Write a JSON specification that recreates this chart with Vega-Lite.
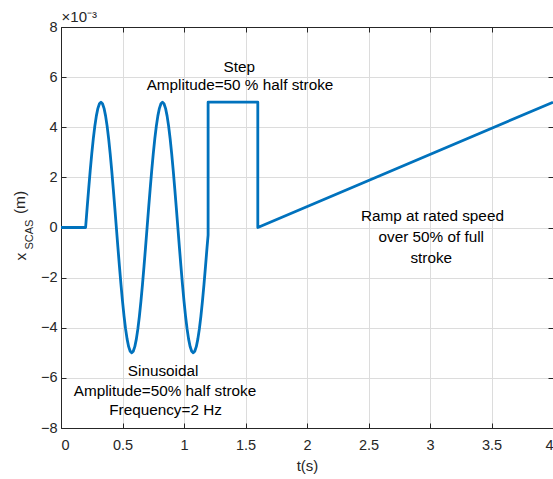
{
  "$schema": "https://vega.github.io/schema/vega-lite/v6.json",
  "width": 492,
  "height": 401,
  "autosize": "none",
  "padding": {"left": 61, "top": 27, "right": 0, "bottom": 51},
  "background": "white",
  "config": {
    "view": {"stroke": "#262626", "strokeWidth": 1},
    "font": "Liberation Sans",
    "axis": {
      "domainColor": "#262626",
      "tickColor": "#262626",
      "labelColor": "#262626",
      "titleColor": "#262626",
      "labelFont": "Liberation Sans",
      "titleFont": "Liberation Sans",
      "labelFontSize": 14.5,
      "titleFontSize": 15,
      "titleFontWeight": "normal",
      "gridColor": "#dcdcdc",
      "gridWidth": 1,
      "tickSize": -5
    }
  },
  "datasets": {
    "signal": [
      {"i": 0, "t": 0, "x": 0},
      {"i": 1, "t": 0.2, "x": 0},
      {"i": 2, "t": 0.2125, "x": 0.782},
      {"i": 3, "t": 0.225, "x": 1.545},
      {"i": 4, "t": 0.2375, "x": 2.27},
      {"i": 5, "t": 0.25, "x": 2.939},
      {"i": 6, "t": 0.2625, "x": 3.536},
      {"i": 7, "t": 0.275, "x": 4.045},
      {"i": 8, "t": 0.2875, "x": 4.455},
      {"i": 9, "t": 0.3, "x": 4.755},
      {"i": 10, "t": 0.3125, "x": 4.938},
      {"i": 11, "t": 0.325, "x": 5},
      {"i": 12, "t": 0.3375, "x": 4.938},
      {"i": 13, "t": 0.35, "x": 4.755},
      {"i": 14, "t": 0.3625, "x": 4.455},
      {"i": 15, "t": 0.375, "x": 4.045},
      {"i": 16, "t": 0.3875, "x": 3.536},
      {"i": 17, "t": 0.4, "x": 2.939},
      {"i": 18, "t": 0.4125, "x": 2.27},
      {"i": 19, "t": 0.425, "x": 1.545},
      {"i": 20, "t": 0.4375, "x": 0.782},
      {"i": 21, "t": 0.45, "x": 0},
      {"i": 22, "t": 0.4625, "x": -0.782},
      {"i": 23, "t": 0.475, "x": -1.545},
      {"i": 24, "t": 0.4875, "x": -2.27},
      {"i": 25, "t": 0.5, "x": -2.939},
      {"i": 26, "t": 0.5125, "x": -3.536},
      {"i": 27, "t": 0.525, "x": -4.045},
      {"i": 28, "t": 0.5375, "x": -4.455},
      {"i": 29, "t": 0.55, "x": -4.755},
      {"i": 30, "t": 0.5625, "x": -4.938},
      {"i": 31, "t": 0.575, "x": -5},
      {"i": 32, "t": 0.5875, "x": -4.938},
      {"i": 33, "t": 0.6, "x": -4.755},
      {"i": 34, "t": 0.6125, "x": -4.455},
      {"i": 35, "t": 0.625, "x": -4.045},
      {"i": 36, "t": 0.6375, "x": -3.536},
      {"i": 37, "t": 0.65, "x": -2.939},
      {"i": 38, "t": 0.6625, "x": -2.27},
      {"i": 39, "t": 0.675, "x": -1.545},
      {"i": 40, "t": 0.6875, "x": -0.782},
      {"i": 41, "t": 0.7, "x": 0},
      {"i": 42, "t": 0.7125, "x": 0.782},
      {"i": 43, "t": 0.725, "x": 1.545},
      {"i": 44, "t": 0.7375, "x": 2.27},
      {"i": 45, "t": 0.75, "x": 2.939},
      {"i": 46, "t": 0.7625, "x": 3.536},
      {"i": 47, "t": 0.775, "x": 4.045},
      {"i": 48, "t": 0.7875, "x": 4.455},
      {"i": 49, "t": 0.8, "x": 4.755},
      {"i": 50, "t": 0.8125, "x": 4.938},
      {"i": 51, "t": 0.825, "x": 5},
      {"i": 52, "t": 0.8375, "x": 4.938},
      {"i": 53, "t": 0.85, "x": 4.755},
      {"i": 54, "t": 0.8625, "x": 4.455},
      {"i": 55, "t": 0.875, "x": 4.045},
      {"i": 56, "t": 0.8875, "x": 3.536},
      {"i": 57, "t": 0.9, "x": 2.939},
      {"i": 58, "t": 0.9125, "x": 2.27},
      {"i": 59, "t": 0.925, "x": 1.545},
      {"i": 60, "t": 0.9375, "x": 0.782},
      {"i": 61, "t": 0.95, "x": 0},
      {"i": 62, "t": 0.9625, "x": -0.782},
      {"i": 63, "t": 0.975, "x": -1.545},
      {"i": 64, "t": 0.9875, "x": -2.27},
      {"i": 65, "t": 1.0, "x": -2.939},
      {"i": 66, "t": 1.0125, "x": -3.536},
      {"i": 67, "t": 1.025, "x": -4.045},
      {"i": 68, "t": 1.0375, "x": -4.455},
      {"i": 69, "t": 1.05, "x": -4.755},
      {"i": 70, "t": 1.0625, "x": -4.938},
      {"i": 71, "t": 1.075, "x": -5},
      {"i": 72, "t": 1.0875, "x": -4.938},
      {"i": 73, "t": 1.1, "x": -4.755},
      {"i": 74, "t": 1.1125, "x": -4.455},
      {"i": 75, "t": 1.125, "x": -4.045},
      {"i": 76, "t": 1.1375, "x": -3.536},
      {"i": 77, "t": 1.15, "x": -2.939},
      {"i": 78, "t": 1.1625, "x": -2.27},
      {"i": 79, "t": 1.175, "x": -1.545},
      {"i": 80, "t": 1.1875, "x": -0.782},
      {"i": 81, "t": 1.196, "x": -0.3},
      {"i": 82, "t": 1.196, "x": 5},
      {"i": 83, "t": 1.6, "x": 5},
      {"i": 84, "t": 1.6, "x": 0},
      {"i": 85, "t": 4.0, "x": 5}
    ],
    "notes": [
      {"label": "Step", "t": 1.45, "x": 6.42},
      {"label": "Amplitude=50 % half stroke", "t": 1.455, "x": 5.7},
      {"label": "Sinusoidal", "t": 0.83, "x": -5.72},
      {"label": "Amplitude=50% half stroke", "t": 0.845, "x": -6.54},
      {"label": "Frequency=2 Hz", "t": 0.85, "x": -7.3},
      {"label": "Ramp at rated speed", "t": 3.02, "x": 0.44},
      {"label": "over 50% of full", "t": 3.01, "x": -0.38},
      {"label": "stroke", "t": 3.01, "x": -1.22}
    ]
  },
  "layer": [
    {
      "data": {"name": "signal"},
      "mark": {"type": "line", "color": "#0072BD", "strokeWidth": 2.8, "interpolate": "linear", "strokeJoin": "round"},
      "encoding": {
        "x": {
          "field": "t", "type": "quantitative",
          "scale": {"domain": [0, 4], "nice": false, "zero": false},
          "axis": {"orient": "bottom", "values": [0, 0.5, 1, 1.5, 2, 2.5, 3, 3.5, 4], "labelExpr": "'' + datum.value", "title": "t(s)", "labelPadding": 15, "titlePadding": 7, "grid": true}
        },
        "y": {
          "field": "x", "type": "quantitative",
          "scale": {"domain": [-8, 8], "nice": false},
          "axis": {"orient": "left", "values": [-8, -6, -4, -2, 0, 2, 4, 6, 8], "title": null, "labelPadding": 9, "grid": true}
        },
        "order": {"field": "i", "type": "quantitative"}
      }
    },
    {
      "data": {"name": "signal"},
      "mark": {"type": "line", "strokeOpacity": 0},
      "encoding": {
        "x": {"field": "t", "type": "quantitative", "axis": {"orient": "top", "values": [0, 0.5, 1, 1.5, 2, 2.5, 3, 3.5, 4], "labels": false, "title": null, "grid": false}},
        "y": {"field": "x", "type": "quantitative", "axis": {"orient": "right", "values": [-8, -6, -4, -2, 0, 2, 4, 6, 8], "labels": false, "title": null, "grid": false}},
        "order": {"field": "i", "type": "quantitative"}
      }
    },
    {
      "data": {"name": "notes"},
      "mark": {"type": "text", "fontSize": 15.3, "color": "#000000", "align": "center", "baseline": "middle", "font": "Liberation Sans"},
      "encoding": {
        "x": {"field": "t", "type": "quantitative", "axis": null},
        "y": {"field": "x", "type": "quantitative", "axis": null},
        "text": {"field": "label"}
      }
    },
    {
      "data": {"values": [{"label": "×10⁻³", "t": 0.005, "x": 8.38}]},
      "mark": {"type": "text", "fontSize": 15, "color": "#262626", "align": "left", "baseline": "middle"},
      "encoding": {
        "x": {"field": "t", "type": "quantitative", "axis": null},
        "y": {"field": "x", "type": "quantitative", "axis": null},
        "text": {"field": "label"}
      }
    },
    {
      "data": {"values": [
        {"label": "x", "t": -0.325, "x": -1.16},
        {"label": "(m)", "t": -0.333, "x": 1.0}
      ]},
      "mark": {"type": "text", "fontSize": 15.5, "color": "#262626", "align": "center", "baseline": "middle", "angle": 270},
      "encoding": {
        "x": {"field": "t", "type": "quantitative", "axis": null},
        "y": {"field": "x", "type": "quantitative", "axis": null},
        "text": {"field": "label"}
      }
    },
    {
      "data": {"values": [{"label": "SCAS", "t": -0.25, "x": -0.28}]},
      "mark": {"type": "text", "fontSize": 11, "color": "#262626", "align": "center", "baseline": "middle", "angle": 270},
      "encoding": {
        "x": {"field": "t", "type": "quantitative", "axis": null},
        "y": {"field": "x", "type": "quantitative", "axis": null},
        "text": {"field": "label"}
      }
    }
  ],
  "resolve": {"axis": {"x": "independent", "y": "independent"}}
}
